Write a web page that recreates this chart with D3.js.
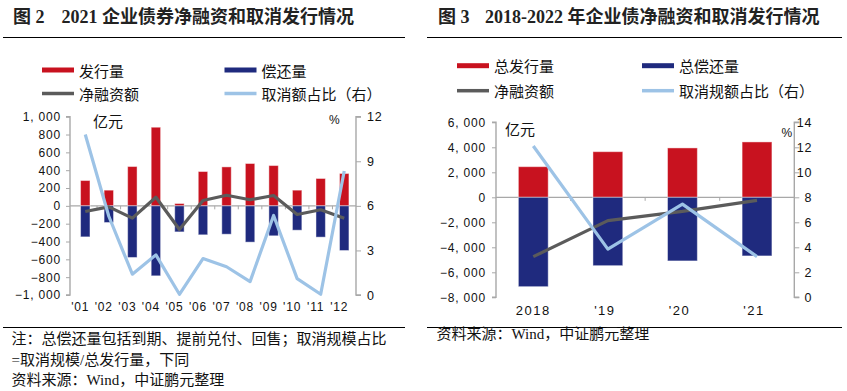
<!DOCTYPE html>
<html><head><meta charset="utf-8">
<script src="https://cdn.jsdelivr.net/npm/d3@7"></script>
<style>
body{margin:0;background:#fff;}
svg{display:block;}
</style></head><body>
<svg id="c" width="847" height="391"></svg>
<script>
// ---------- data: chart 1 (2021 monthly) ----------
const months = ["'01","'02","'03","'04","'05","'06","'07","'08","'09","'10","'11","'12"];
const issue2021 = [284,176,441,882,26,385,437,475,452,176,307,363];
const repay2021 = [-348,-187,-579,-785,-292,-325,-318,-407,-336,-273,-351,-501];
const net2021 = [-64,-11,-138,97,-266,60,119,68,116,-97,-44,-138];
const cancel2021 = [10.8,5.3,1.4,2.7,0.05,2.45,1.9,0.9,5.35,1.1,0.05,8.35];
const leftTicks1 = [-1000,-800,-600,-400,-200,0,200,400,600,800,1000];
const rightTicks1 = [0,3,6,9,12];
const legend1 = ["发行量","偿还量","净融资额","取消额占比（右）"];
const title1a = "图 2", title1b = "2021 企业债券净融资和取消发行情况";

// ---------- data: chart 2 (2018-2021 yearly) ----------
const years = ["2018","'19","'20","'21"];
const issueY = [2450,3650,3950,4430];
const repayY = [-7150,-5470,-5090,-4690];
const netY = [-4750,-1870,-1130,-240];
const cancelY = [12.1,3.85,7.45,3.25];
const leftTicks2 = [-8000,-6000,-4000,-2000,0,2000,4000,6000];
const rightTicks2 = [0,2,4,6,8,10,12,14];
const legend2 = ["总发行量","总偿还量","净融资额","取消规额占比（右）"];
const title2a = "图 3", title2b = "2018-2022 年企业债净融资和取消发行情况";

const notes1 = ["注：总偿还量包括到期、提前兑付、回售；取消规模占比","=取消规模/总发行量，下同","资料来源：Wind，中证鹏元整理"];
const notes2 = ["资料来源：Wind，中证鹏元整理"];

const RED="#c8121f", NAVY="#1f2a7e", GRAY="#5b5b5b", LBLUE="#9dc3e6", AX="#a8a8a8";
const CJK = "'Noto Sans CJK SC', sans-serif";
const SERIFCJK = "'Liberation Serif', 'Noto Sans CJK SC', serif";
const NUM = "'Liberation Sans', Arial, sans-serif";

const svg = d3.select("#c");
const fmt = v => d3.format(",")(v).replace(",", ", ");

function drawChart(c) {
  const g = svg.append("g");
  // title
  const t = g.append("text").attr("y", c.titleY).attr("font-family", SERIFCJK)
    .attr("font-size", 18).attr("font-weight", "bold").attr("dominant-baseline","central").attr("fill","#222");
  t.append("tspan").attr("x", c.titleX1).text(c.titleA);
  t.append("tspan").attr("x", c.titleX2).text(c.titleB);
  g.append("line").attr("x1", c.ruleX[0]).attr("x2", c.ruleX[1]).attr("y1", 37.5).attr("y2", 37.5)
    .attr("stroke", "#000").attr("stroke-width", 1.2);
  g.append("line").attr("x1", c.ruleX[0]).attr("x2", c.ruleX[1]).attr("y1", 327.5).attr("y2", 327.5)
    .attr("stroke", "#000").attr("stroke-width", 1.2);

  // legend
  const types = [{col:RED,w:5},{col:NAVY,w:5},{col:GRAY,w:3.5},{col:LBLUE,w:3.5}];
  c.legend.forEach((name, i) => {
    const cx = c.legX[i % 2], cy = c.legY[Math.floor(i / 2)];
    g.append("line").attr("x1", cx).attr("x2", cx + 32).attr("y1", cy).attr("y2", cy)
      .attr("stroke", types[i].col).attr("stroke-width", types[i].w);
    g.append("text").attr("x", cx + 37).attr("y", cy).attr("dominant-baseline","central")
      .attr("font-family", CJK).attr("font-size", 15).attr("fill","#111").text(name);
  });

  const x = d3.scaleBand().domain(c.cats).range(c.band).paddingInner(0.6).paddingOuter(0.3);
  const y = d3.scaleLinear().domain(c.yDom).range(c.yRange);
  const y2 = d3.scaleLinear().domain(c.y2Dom).range(c.yRange);
  const step = x.step();

  // zero line
  g.append("line").attr("x1", c.axL).attr("x2", c.axR).attr("y1", y(0)).attr("y2", y(0))
    .attr("stroke", AX).attr("stroke-width", 1.3);
  // category boundary ticks
  d3.range(1, c.cats.length).forEach(k => {
    const xx = c.band[0] + k * step;
    g.append("line").attr("x1", xx).attr("x2", xx).attr("y1", y(0)).attr("y2", y(0) + 3.5)
      .attr("stroke", AX).attr("stroke-width", 1);
  });

  // bars
  g.selectAll(null).data(c.issue).join("rect")
    .attr("x", (d, i) => x(c.cats[i])).attr("width", x.bandwidth())
    .attr("y", d => y(d)).attr("height", d => y(0) - y(d))
    .attr("fill", RED).attr("stroke", "#fff").attr("stroke-opacity", 0.45).attr("stroke-width", 1);
  g.selectAll(null).data(c.repay).join("rect")
    .attr("x", (d, i) => x(c.cats[i])).attr("width", x.bandwidth())
    .attr("y", y(0)).attr("height", d => y(d) - y(0))
    .attr("fill", NAVY).attr("stroke", "#fff").attr("stroke-opacity", 0.45).attr("stroke-width", 1);

  // axes
  const axL = d3.axisLeft(y).tickValues(c.lTicks).tickSize(4).tickFormat(fmt);
  const gl = g.append("g").attr("transform", `translate(${c.axL},0)`).call(axL);
  gl.select(".domain").attr("stroke", AX).attr("stroke-width", 1.4).attr("d", `M-4,${c.yRange[0]}H0V${c.yRange[1]}H-4`);
  gl.selectAll(".tick line").attr("stroke", AX);
  gl.selectAll(".tick text").attr("x", -c.lGap).attr("font-family", NUM).attr("font-size", 12)
    .attr("letter-spacing", 0.8).attr("fill", "#111");

  const axR = d3.axisRight(y2).tickValues(c.rTicks).tickSize(5);
  const gr = g.append("g").attr("transform", `translate(${c.axR},0)`).call(axR);
  gr.select(".domain").attr("stroke", AX).attr("stroke-width", 1.4).attr("d", `M5,${c.yRange[0]}H0V${c.yRange[1]}H5`);
  gr.selectAll(".tick line").attr("stroke", AX);
  gr.selectAll(".tick text").attr("x", c.rLabX).attr("text-anchor", c.rAnchor).attr("font-family", NUM)
    .attr("font-size", 12.5).attr("letter-spacing", 0.8).attr("fill", "#111");
  gl.select(".domain").raise();

  // x labels
  g.selectAll(null).data(c.cats).join("text")
    .attr("x", d => x(d) + x.bandwidth() / 2 + (d.startsWith("'") ? c.xdx : 0))
    .attr("y", c.xLabY).attr("text-anchor", "middle")
    .attr("font-family", NUM).attr("font-size", c.xFont).attr("letter-spacing", c.xLs).attr("fill", "#111")
    .text(d => d);

  // units
  g.append("text").attr("x", c.unitX).attr("y", c.unitY).attr("dominant-baseline","central")
    .attr("font-family", CJK).attr("font-size", 15).attr("fill","#111").text("亿元");
  g.append("text").attr("x", c.pctX).attr("y", c.pctY).attr("dominant-baseline","central")
    .attr("font-family", NUM).attr("font-size", 12).attr("fill","#111").text("%");

  // lines
  const cx = (i) => x(c.cats[i]) + x.bandwidth() / 2;
  g.append("path").datum(c.net)
    .attr("d", d3.line().x((d, i) => cx(i)).y(d => y(d)))
    .attr("fill", "none").attr("stroke", GRAY).attr("stroke-width", 3.2).attr("stroke-linejoin","round");
  g.append("path").datum(c.cancel)
    .attr("d", d3.line().x((d, i) => cx(i)).y(d => y2(d)))
    .attr("fill", "none").attr("stroke", LBLUE).attr("stroke-width", 3.2).attr("stroke-linejoin","round");

  // notes
  c.notes.forEach((n, i) => {
    g.append("text").attr("x", c.noteX).attr("y", c.noteY[i]).attr("dominant-baseline","central")
      .attr("font-family", SERIFCJK).attr("font-size", 15).attr("fill","#111").text(n);
  });
}

drawChart({
  titleA: title1a, titleB: title1b, titleX1: 13, titleX2: 61.5, titleY: 17, ruleX: [3, 405],
  legend: legend1, legX: [42, 224.5], legY: [70, 93.5],
  cats: months, issue: issue2021, repay: repay2021, net: net2021, cancel: cancel2021,
  band: [73.5, 356], axL: 70, axR: 356, yDom: [-1000, 1000], y2Dom: [0, 12], yRange: [295, 116.7],
  lTicks: leftTicks1, rTicks: rightTicks1, lGap: 9, rLabX: 11, rAnchor: "start",
  xLabY: 310.5, xdx: -5, xFont: 12, xLs: 0.8,
  unitX: 93, unitY: 120, pctX: 329, pctY: 120,
  notes: notes1, noteX: 11.5, noteY: [338.5, 359.5, 379.5]
});
drawChart({
  titleA: title2a, titleB: title2b, titleX1: 438, titleX2: 485, titleY: 17, ruleX: [427, 842],
  legend: legend2, legX: [457, 642], legY: [65.7, 90.7],
  cats: years, issue: issueY, repay: repayY, net: netY, cancel: cancelY,
  band: [496, 794.3], axL: 496, axR: 794.3, yDom: [-8000, 6000], y2Dom: [0, 14], yRange: [297.3, 122.3],
  lTicks: leftTicks2, rTicks: rightTicks2, lGap: 10, rLabX: 18, rAnchor: "end",
  xLabY: 315, xdx: -3, xFont: 13, xLs: 1.5,
  unitX: 505, unitY: 128, pctX: 781.5, pctY: 133,
  notes: notes2, noteX: 436.5, noteY: [333.5]
});
</script>
</body></html>
